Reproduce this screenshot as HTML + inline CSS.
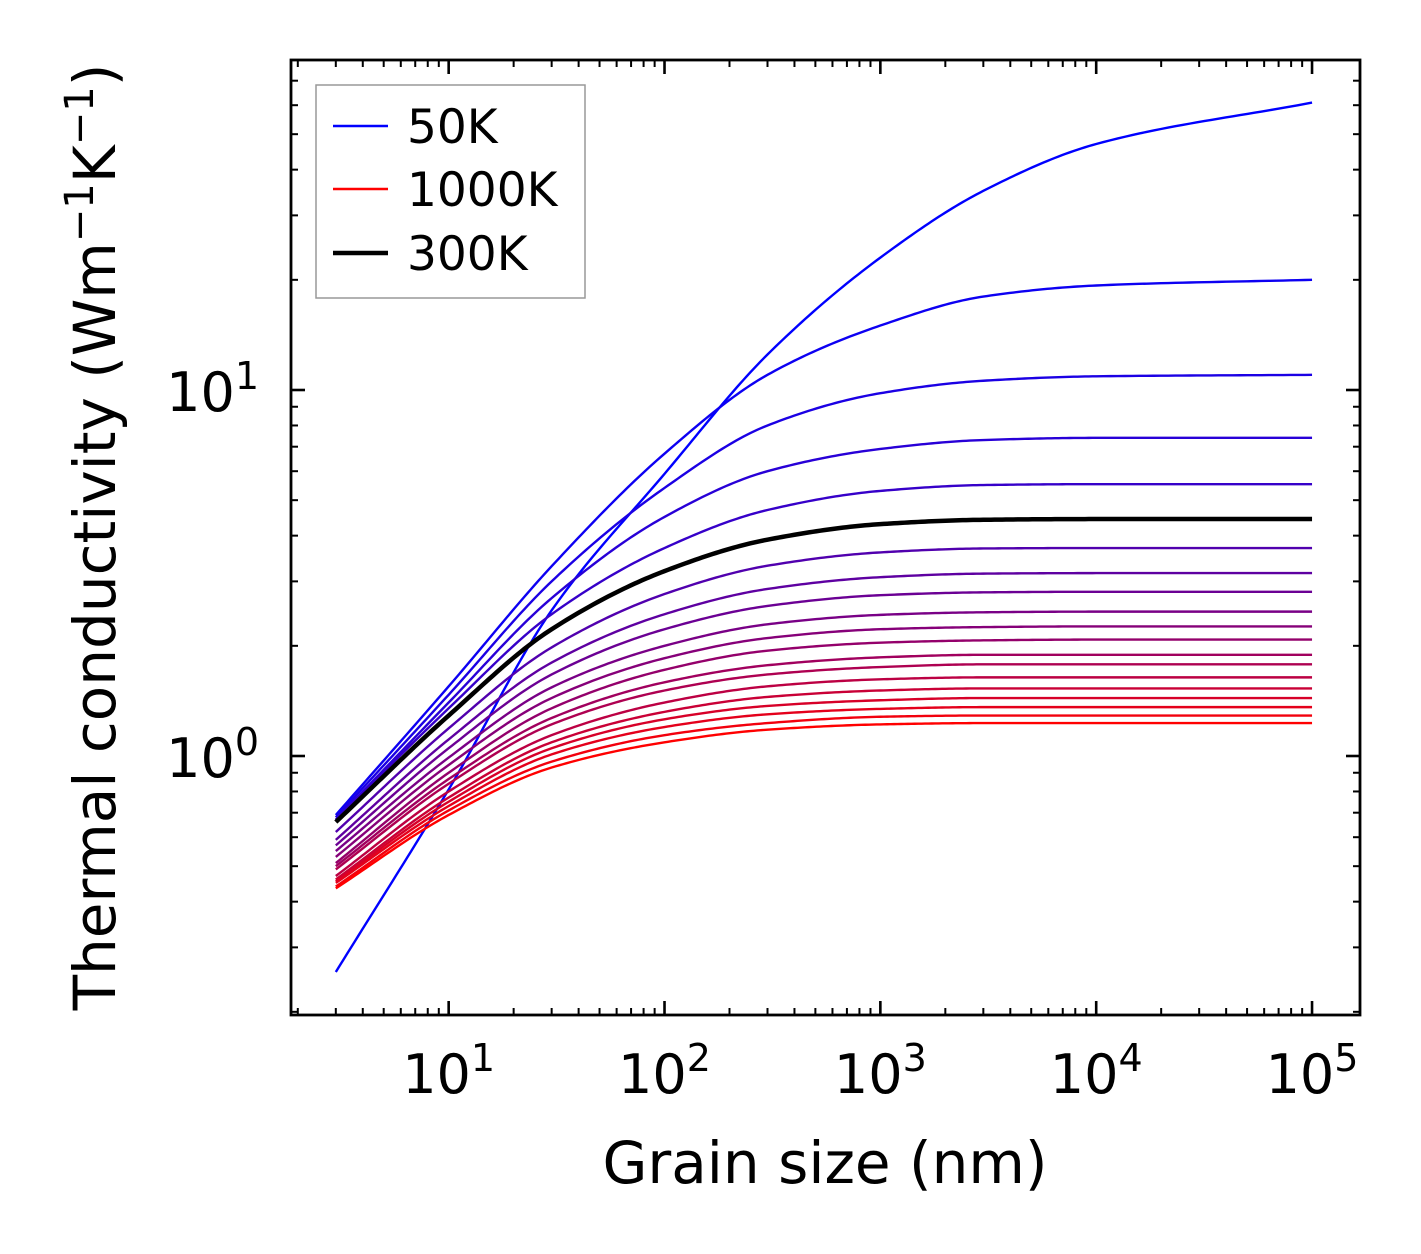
<!DOCTYPE html>
<html><head><meta charset="utf-8"><style>
html,body{margin:0;padding:0;background:#fff;}
svg{display:block;font-family:"DejaVu Sans","Liberation Sans",sans-serif;}
</style></head><body>
<svg id="chart" width="1421" height="1254" viewBox="0 0 1421 1254" xmlns="http://www.w3.org/2000/svg">
<rect width="1421" height="1254" fill="#fff"/>
<g id="curves"></g>
<g id="ticks"></g>
<rect x="291" y="60" width="1069" height="955" fill="none" stroke="#000" stroke-width="2.8"/>
<g id="xlabels" font-size="54" text-anchor="middle"></g>
<g id="ylabels" font-size="54" text-anchor="end"></g>
<text x="825" y="1183" font-size="58" text-anchor="middle">Grain size (nm)</text>
<text transform="translate(115,537) rotate(-90)" font-size="58" text-anchor="middle">Thermal conductivity (Wm<tspan dy="-22" font-size="40">−1</tspan><tspan dy="22">K</tspan><tspan dy="-22" font-size="40">−1</tspan><tspan dy="22">)</tspan></text>
<g>
<rect x="316" y="85" width="269" height="213" fill="#fff" stroke="#999" stroke-width="1.5"/>
<line x1="333" y1="126" x2="388" y2="126" stroke="#0000ff" stroke-width="2.4"/>
<text x="407" y="143" font-size="47">50K</text>
<line x1="333" y1="189" x2="388" y2="189" stroke="#ff0000" stroke-width="2.4"/>
<text x="407" y="206" font-size="47">1000K</text>
<line x1="333" y1="253" x2="388" y2="253" stroke="#000" stroke-width="4.5"/>
<text x="407" y="270" font-size="47">300K</text>
</g>
</svg>
<script>
const grainSizes = [3, 10, 30, 100, 300, 1000, 3000, 10000, 100000];
const temperatures = [50,100,150,200,250,300,350,400,450,500,550,600,650,700,750,800,850,900,950,1000];
const k50 = [0.257,0.81,2.5,5.9,12.5,23,35,47,61];
const k100 = [0.69,1.55,3.3,6.7,11,15,18,19.3,20];
const k150 = [0.68,1.47,3.0,5.4,8.0,9.8,10.6,10.9,11];
const k200 = [0.67,1.40,2.7,4.5,6.0,6.9,7.3,7.4,7.4];
const k250 = [0.67,1.35,2.44,3.7,4.7,5.3,5.5,5.53,5.53];
const k300 = [0.66,1.29,2.22,3.2,3.9,4.3,4.42,4.44,4.44];
const k350 = [0.62,1.19,1.98,2.77,3.31,3.60,3.69,3.70,3.70];
const k400 = [0.59,1.11,1.80,2.44,2.86,3.08,3.15,3.16,3.16];
const k450 = [0.57,1.05,1.67,2.22,2.57,2.75,2.80,2.81,2.81];
const k500 = [0.55,0.99,1.54,2.00,2.29,2.43,2.47,2.48,2.48];
const k550 = [0.53,0.945,1.44,1.85,2.10,2.22,2.25,2.26,2.26];
const k600 = [0.51,0.90,1.35,1.72,1.94,2.04,2.07,2.08,2.08];
const k650 = [0.50,0.865,1.27,1.59,1.77,1.86,1.89,1.89,1.89];
const k700 = [0.49,0.84,1.22,1.51,1.67,1.75,1.78,1.78,1.78];
const k750 = [0.47,0.80,1.14,1.40,1.55,1.62,1.64,1.64,1.64];
const k800 = [0.46,0.77,1.09,1.32,1.45,1.51,1.53,1.53,1.53];
const k850 = [0.455,0.75,1.05,1.26,1.37,1.42,1.44,1.44,1.44];
const k900 = [0.45,0.73,1.01,1.20,1.30,1.345,1.36,1.36,1.36];
const k950 = [0.44,0.71,0.965,1.14,1.23,1.28,1.29,1.29,1.29];
const k1000 = [0.435,0.69,0.93,1.09,1.18,1.22,1.23,1.23,1.23];
const series = [k50,k100,k150,k200,k250,k300,k350,k400,k450,k500,k550,k600,k650,k700,k750,k800,k850,k900,k950,k1000];
const xTickExps = [1,2,3,4,5];
const yTickExps = [0,1];

const NS='http://www.w3.org/2000/svg';
const X0=291,X1=1360,Y0=60,Y1=1015;
const xMinL=Math.log10(1.86), xMaxL=5+48/216;
const yMinL=-259/366, yMaxL=1+330/366;
function xs(v){return X0+(Math.log10(v)-xMinL)/(xMaxL-xMinL)*(X1-X0);}
function ys(v){return Y1-(Math.log10(v)-yMinL)/(yMaxL-yMinL)*(Y1-Y0);}

function pathFor(vals){
  const X=grainSizes.map(d=>Math.log10(d)), Y=vals.map(v=>Math.log10(v));
  const n=X.length, dl=[], m=[];
  for(let i=0;i<n-1;i++) dl.push((Y[i+1]-Y[i])/(X[i+1]-X[i]));
  m[0]=dl[0]; m[n-1]=dl[n-2];
  for(let i=1;i<n-1;i++){
    if(dl[i-1]*dl[i]<=0) m[i]=0;
    else { const h0=X[i]-X[i-1], h1=X[i+1]-X[i];
      const w1=2*h1+h0, w2=h1+2*h0;
      m[i]=(w1+w2)/(w1/dl[i-1]+w2/dl[i]); }
  }
  let s='';
  for(let i=0;i<n-1;i++){
    const h=X[i+1]-X[i], N=30;
    for(let j=(i===0?0:1);j<=N;j++){
      const t=j/N, t2=t*t, t3=t2*t;
      const y=(2*t3-3*t2+1)*Y[i]+(t3-2*t2+t)*h*m[i]+(-2*t3+3*t2)*Y[i+1]+(t3-t2)*h*m[i+1];
      const x=X[i]+t*h;
      const px=xs(Math.pow(10,x)), py=ys(Math.pow(10,y));
      s+=(s?'L':'M')+px.toFixed(2)+','+py.toFixed(2);
    }
  }
  return s;
}
const cg=document.getElementById('curves');
const order=series.map((_,i)=>i).filter(i=>temperatures[i]!==300).concat(series.map((_,i)=>i).filter(i=>temperatures[i]===300));
order.forEach(i=>{
  const el=document.createElementNS(NS,'path');
  el.setAttribute('d',pathFor(series[i]));
  const f=i/(temperatures.length-1);
  const isRef=temperatures[i]===300;
  el.setAttribute('stroke',isRef?'#000':'rgb('+Math.round(255*f)+',0,'+Math.round(255*(1-f))+')');
  el.setAttribute('stroke-width',isRef?4.5:2.4);
  el.setAttribute('fill','none');
  el.setAttribute('stroke-linejoin','round');
  
  
  cg.appendChild(el);
});

const tg=document.getElementById('ticks');
function line(x1,y1,x2,y2,w){
  const l=document.createElementNS(NS,'line');
  l.setAttribute('x1',x1);l.setAttribute('y1',y1);l.setAttribute('x2',x2);l.setAttribute('y2',y2);
  l.setAttribute('stroke','#000');l.setAttribute('stroke-width',w);
  
  
  tg.appendChild(l);
}
for(let e=0;e<=5;e++){for(let m=1;m<10;m++){
  const v=m*Math.pow(10,e); const x=xs(v);
  if(x<X0||x>X1) continue;
  const L=m===1?14:7, w=m===1?2.6:2;
  line(x,Y1,x,Y1-L,w);line(x,Y0,x,Y0+L,w);
}}
for(let e=-1;e<=1;e++){for(let m=1;m<10;m++){
  const v=m*Math.pow(10,e); const y=ys(v);
  if(y<Y0||y>Y1) continue;
  const L=m===1?14:7, w=m===1?2.6:2;
  line(X0,y,X0+L,y,w);line(X1,y,X1-L,y,w);
}}
const xl=document.getElementById('xlabels');
xTickExps.forEach(e=>{
  const t=document.createElementNS(NS,'text');
  t.setAttribute('x',xs(Math.pow(10,e)));t.setAttribute('y',1093);
  t.innerHTML='10<tspan dy="-22" font-size="38">'+e+'</tspan>';
  
  
  xl.appendChild(t);
});
const yl=document.getElementById('ylabels');
yTickExps.forEach(e=>{
  const t=document.createElementNS(NS,'text');
  t.setAttribute('x',259);t.setAttribute('y',ys(Math.pow(10,e))+21);
  t.innerHTML='10<tspan dy="-22" font-size="38">'+e+'</tspan>';
  
  
  yl.appendChild(t);
});
</script>
</body></html>
